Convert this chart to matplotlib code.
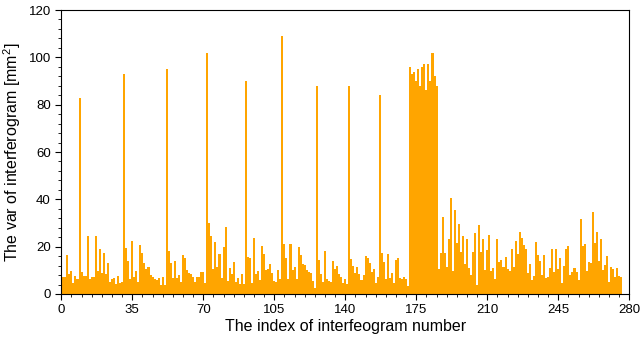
import matplotlib
matplotlib.use("Agg")
import matplotlib.pyplot as plt
from matplotlib.ticker import MultipleLocator, AutoMinorLocator


X_LABEL = "The index of interfeogram number"
Y_LABEL = "The var of interferogram [mm$^2$]"
BAR_COLOR = "orange"

X_TICKS = [0, 35, 70, 105, 140, 175, 210, 245, 280]
Y_TICKS = [0, 20, 40, 60, 80, 100, 120]

# variance of each interferogram, index 1..276
var_values = [
    7.0, 7.3, 16.6, 8.5, 9.9, 4.8, 7.7, 6.2, 83.0, 9.4,
    7.7, 7.7, 24.6, 6.5, 7.0, 7.3, 24.6, 9.9, 19.0, 9.0,
    17.2, 8.5, 13.2, 5.2, 6.2, 6.8, 4.2, 7.6, 4.5, 5.0,
    93.0, 19.4, 14.1, 6.3, 22.4, 7.3, 9.9, 5.2, 20.7, 17.2,
    13.2, 10.7, 11.3, 7.9, 7.3, 6.3, 5.9, 6.6, 3.8, 7.0,
    3.8, 95.0, 18.2, 13.0, 6.6, 14.1, 6.9, 7.9, 5.2, 16.5,
    15.4, 10.1, 8.7, 8.5, 7.0, 5.2, 7.3, 7.3, 9.4, 9.1,
    4.8, 102.0, 30.1, 24.6, 10.6, 22.1, 11.3, 16.9, 6.9, 19.7,
    28.5, 5.6, 11.1, 8.6, 13.7, 5.1, 6.9, 4.2, 8.6, 4.2,
    90.0, 15.8, 15.2, 4.5, 23.8, 8.5, 9.9, 5.9, 20.3, 16.9,
    10.1, 10.7, 12.7, 8.7, 5.6, 5.2, 10.1, 6.2, 109.0, 21.1,
    15.1, 6.2, 21.1, 10.1, 11.5, 6.2, 19.7, 16.5, 12.7, 12.1,
    10.1, 9.3, 9.0, 5.6, 2.5, 88.0, 14.4, 8.5, 5.1, 18.2,
    6.3, 5.6, 5.2, 13.9, 10.6, 11.8, 8.5, 7.3, 4.8, 6.2,
    4.2, 88.0, 14.8, 11.8, 8.7, 11.3, 8.5, 5.9, 8.0, 16.1,
    15.2, 13.2, 9.4, 10.4, 4.8, 7.0, 84.0, 17.5, 13.7, 6.3,
    16.9, 6.6, 9.0, 4.5, 14.4, 15.1, 6.6, 6.2, 7.0, 6.2,
    3.4, 96.0, 93.0, 94.0, 90.0, 95.0, 88.0, 96.0, 97.0, 86.0,
    97.0, 90.0, 102.0, 92.0, 88.0, 10.6, 17.5, 32.7, 17.5, 11.5,
    23.2, 40.6, 9.9, 35.5, 21.7, 29.6, 17.9, 24.5, 12.7, 23.2,
    11.0, 8.0, 17.9, 25.9, 3.8, 29.2, 17.9, 23.2, 10.1, 18.6,
    24.9, 9.9, 11.0, 6.3, 23.2, 13.7, 14.4, 11.5, 15.8, 10.4,
    9.9, 19.0, 11.3, 22.4, 16.9, 26.2, 23.8, 20.7, 19.0, 9.0,
    12.7, 5.9, 7.7, 22.0, 16.5, 14.1, 8.0, 16.5, 6.9, 7.3,
    11.0, 19.0, 9.4, 19.0, 10.6, 15.2, 4.8, 11.8, 19.0, 20.3,
    8.0, 9.4, 11.0, 9.4, 5.9, 31.7, 20.3, 21.1, 9.9, 13.7,
    13.2, 34.6, 21.4, 26.2, 14.1, 23.1, 10.1, 12.3, 16.1, 5.2,
    11.3, 10.4, 7.3, 11.0, 7.6, 7.0,
]
index = list(range(1, len(var_values) + 1))


def main():
    plt.rcParams["font.family"] = ["Liberation Sans", "DejaVu Sans"]
    plt.rcParams["mathtext.fontset"] = "custom"
    plt.rcParams["mathtext.rm"] = "Liberation Sans"

    fig = plt.figure(figsize=(6.41, 3.43), dpi=100)
    ax = fig.add_axes([0.0956, 0.1429, 0.8861, 0.8279])

    ax.bar(index, var_values, width=1.0, color=BAR_COLOR, linewidth=0)

    ax.set_xlim(0, 280)
    ax.set_ylim(0, 120)
    ax.set_xticks(X_TICKS)
    ax.set_yticks(Y_TICKS)
    ax.xaxis.set_minor_locator(MultipleLocator(5))
    ax.yaxis.set_minor_locator(AutoMinorLocator(5))
    ax.tick_params(axis="both", which="major", labelsize=9.5, length=4, width=0.8)
    ax.tick_params(axis="both", which="minor", length=2, width=0.6)

    ax.set_xlabel(X_LABEL, fontsize=11.5, labelpad=2)
    ax.set_ylabel(Y_LABEL, fontsize=11.5, labelpad=4)

    fig.savefig("out.png", dpi=100)
    plt.close(fig)


if __name__ == "__main__":
    main()
